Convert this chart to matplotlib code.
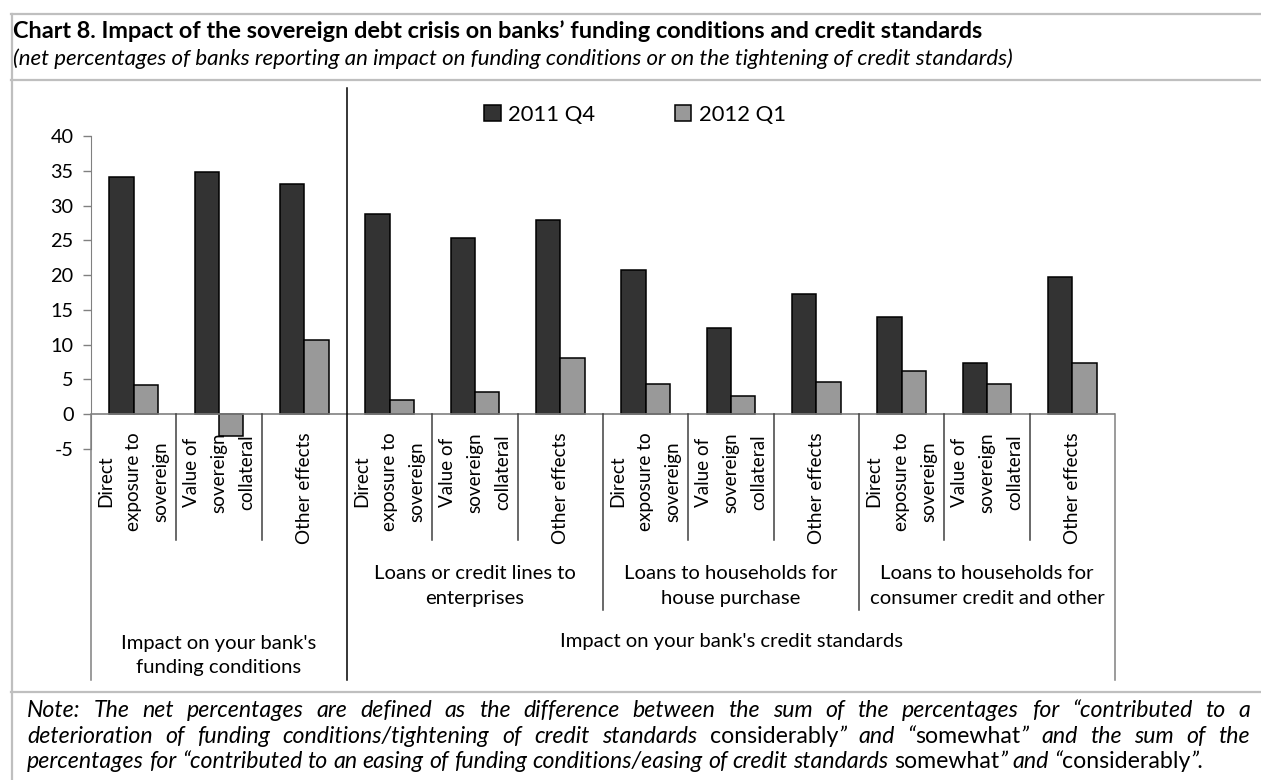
import numpy as np
import matplotlib
matplotlib.use('Agg')
import matplotlib.pyplot as plt
from matplotlib.lines import Line2D
from matplotlib.transforms import blended_transform_factory

plt.rcParams['font.family'] = ['Lato', 'DejaVu Sans']

# данные
sub_labels = ['Direct\nexposure to\nsovereign', 'Value of\nsovereign\ncollateral', 'Other effects'] * 4
mid_groups = ['', 'Loans or credit lines to\nenterprises', 'Loans to households for\nhouse purchase',
              'Loans to households for\nconsumer credit and other']
top_groups = ["Impact on your bank's\nfunding conditions", "Impact on your bank's credit standards"]
q4_2011 = [34.1, 34.8, 33.1, 28.8, 25.4, 27.9, 20.7, 12.4, 17.3, 14.0, 7.3, 19.8]
q1_2012 = [4.2, -3.2, 10.6, 2.1, 3.2, 8.1, 4.4, 2.6, 4.6, 6.2, 4.4, 7.3]
series_names = ['2011 Q4', '2012 Q1']
y_ticks = [-5, 0, 5, 10, 15, 20, 25, 30, 35, 40]

W, H = 1261, 780
fig = plt.figure(figsize=(W / 100, H / 100), dpi=100)


def fx(px):
    return px / W


def fy(py):
    return 1 - py / H


# рамка
border = '#bfbfbf'
for xs, ys in [([11, W], [14, 14]), ([11, W], [80, 80]), ([11, W], [692, 692]), ([12, 12], [14, H])]:
    fig.add_artist(Line2D([fx(v) for v in xs], [fy(v) for v in ys], color=border, lw=1.6))

fig.text(fx(13), fy(38), 'Chart 8. Impact of the sovereign debt crisis on banks\u2019 funding conditions and credit standards',
         fontsize=16.9, fontweight='bold', va='baseline')
fig.text(fx(13), fy(65), '(net percentages of banks reporting an impact on funding conditions or on the tightening of credit standards)',
         fontsize=16.0, fontstyle='italic', va='baseline')

# оси
ax = fig.add_axes([fx(91), fy(449), (1115 - 91) / W, (449 - 136) / H])
n = len(q4_2011)
x = np.arange(n) + 0.5
w = 1 / 3.5
b1 = ax.bar(x - w / 2, q4_2011, w, color='#333333', edgecolor='black', lw=1.1, zorder=3)
b2 = ax.bar(x + w / 2, q1_2012, w, color='#999999', edgecolor='black', lw=1.1, zorder=3)
ax.set_xlim(0, n)
ax.set_ylim(-5, 40)
ax.set_yticks(y_ticks)
ax.set_yticklabels([str(v) for v in y_ticks], fontsize=14.3)
ax.tick_params(axis='y', length=6, width=1, color='#808080', pad=6.5)
ax.set_xticks([])
for s in ['top', 'right', 'bottom']:
    ax.spines[s].set_visible(False)
ax.spines['left'].set_color('#808080')
ax.axhline(0, color='#808080', lw=1.2, zorder=4)

tr = blended_transform_factory(ax.transData, fig.transFigure)
axis_grey = '#808080'
for i in range(n + 1):
    if i in (0, n):
        ys, col = (414, 680), axis_grey
    elif i == 3:
        ys, col = (88, 680), 'black'
    elif i in (6, 9):
        ys, col = (414, 610), '#404040'
    else:
        ys, col = (414, 540), '#404040'
    fig.add_artist(Line2D([i, i], [fy(ys[0]), fy(ys[1])], color=col, lw=1.1, transform=tr))

for i, lab in enumerate(sub_labels):
    ax.text(x[i], fy(432), lab, rotation=90, ha='center', va='top', multialignment='center',
            fontsize=13.6, linespacing=1.75, transform=tr, clip_on=False)

for g, lab in enumerate(mid_groups):
    if lab:
        ax.text(g * 3 + 1.5, fy(586), lab, ha='center', va='center', multialignment='center',
                fontsize=14.6, linespacing=1.55, transform=tr, clip_on=False)

ax.text(1.5, fy(655), top_groups[0], ha='center', va='center', multialignment='center',
        fontsize=14.6, linespacing=1.5, transform=tr, clip_on=False)
ax.text(7.5, fy(642), top_groups[1], ha='center', va='center', fontsize=14.6, transform=tr, clip_on=False)

fig.legend([b1, b2], series_names, loc='center', bbox_to_anchor=(fx(635), fy(115)), ncol=2,
           frameon=False, fontsize=15.8, handlelength=0.75, handleheight=0.75, handletextpad=0.35,
           columnspacing=3.6)

# примечание с выравниванием по ширине
note_lines = [
    [('Note: The net percentages are defined as the difference between the sum of the percentages for \u201ccontributed to a', True)],
    [('deterioration of funding conditions/tightening of credit standards', True), (' considerably', False),
     ('\u201d and \u201c', True), ('somewhat', False), ('\u201d and the sum of the', True)],
    [('percentages for \u201ccontributed to an easing of funding conditions/easing of credit standards', True),
     (' somewhat', False), ('\u201d and \u201c', True), ('considerably', False), ('\u201d.', True)],
]
note_size = 16.7
renderer = fig.canvas.get_renderer()


def run_words(runs):
    words = [[]]
    for text, it in runs:
        parts = text.split(' ')
        for k, p in enumerate(parts):
            if k > 0:
                words.append([])
            if p:
                words[-1].append((p, it))
    return [wd for wd in words if wd]


def frag_width(text, it):
    t = fig.text(0, 0, text, fontsize=note_size, fontstyle='italic' if it else 'normal')
    wpx = t.get_window_extent(renderer).width
    t.remove()
    return wpx


space_w = frag_width('a b', True) - frag_width('ab', True)
left, right = 27, 1250
baselines = [717, 743, 768]
for li, runs in enumerate(note_lines):
    words = run_words(runs)
    widths = [[frag_width(t, it) for t, it in wd] for wd in words]
    total = sum(sum(ws) for ws in widths)
    if li < len(note_lines) - 1:
        gap = (right - left - total) / (len(words) - 1)
    else:
        gap = space_w
    cx = left
    for wd, ws in zip(words, widths):
        for (t, it), wpx in zip(wd, ws):
            fig.text(fx(cx), fy(baselines[li]), t, fontsize=note_size,
                     fontstyle='italic' if it else 'normal', va='baseline')
            cx += wpx
        cx += gap

fig.savefig('out.png', dpi=100)
